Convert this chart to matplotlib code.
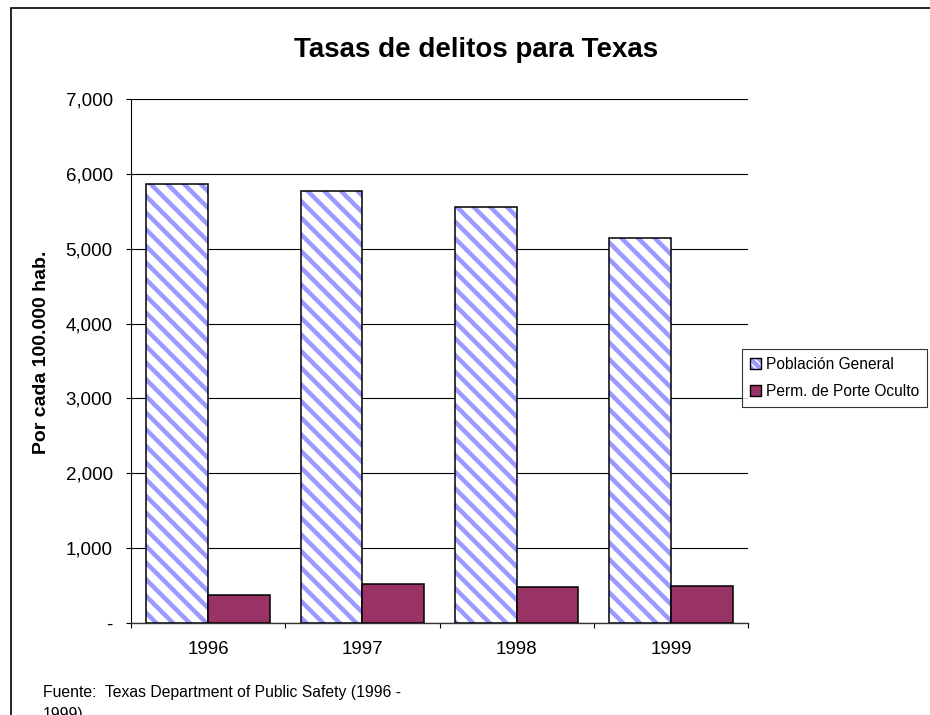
import matplotlib
matplotlib.use("Agg")
import matplotlib.pyplot as plt
from matplotlib.patches import Patch, Rectangle
from matplotlib.legend_handler import HandlerTuple
from matplotlib.ticker import FuncFormatter, FixedLocator
import numpy as np

plt.rcParams['font.family'] = ['Liberation Sans', 'DejaVu Sans']
plt.rcParams['hatch.linewidth'] = 3.2

years = ['1996', '1997', '1998', '1999']
poblacion_general = [5869, 5767, 5557, 5139]
porte_oculto = [370, 521, 477, 494]
series_names = ['Población General', 'Perm. de Porte Oculto']

blue = '#9999ff'
maroon = '#993366'

fig = plt.figure(figsize=(9.3, 7.15), dpi=100)
ax = fig.add_axes([131/930, 1-623/715, 617/930, 524/715])

x = np.arange(len(years))
w = 0.4
ax.bar(x - w/2, poblacion_general, width=w, facecolor='white', edgecolor=blue,
       hatch='\\\\', linewidth=0, zorder=3)
ax.bar(x - w/2, poblacion_general, width=w, fill=False, edgecolor='black',
       linewidth=1.1, zorder=4)
ax.bar(x + w/2, porte_oculto, width=w, facecolor=maroon, edgecolor='black',
       linewidth=1.1, zorder=4)

ax.set_xlim(-0.5, len(years) - 0.5)
ax.set_ylim(0, 7000)
ax.set_yticks(np.arange(0, 7001, 1000))
ax.yaxis.set_major_formatter(FuncFormatter(lambda v, p: '-' if v == 0 else f'{int(v):,}'))
ax.grid(axis='y', color='black', linewidth=0.8, zorder=1)
ax.set_axisbelow(True)

ax.set_xticks(x)
ax.set_xticklabels(years)
ax.xaxis.set_minor_locator(FixedLocator(np.arange(-0.5, len(years), 1.0)))
ax.tick_params(axis='x', which='major', length=0, labelsize=13.5, pad=13)
ax.tick_params(axis='x', which='minor', length=3.6, width=0.8, direction='out')
ax.tick_params(axis='y', length=3.6, width=0.8, direction='out', labelsize=13.5, pad=9.5)

for s in ['top', 'right']:
    ax.spines[s].set_visible(False)
ax.spines['left'].set_linewidth(0.8)
ax.spines['bottom'].set_linewidth(1.0)
ax.spines['bottom'].set_color('#333333')

fig.text(42/930, 1-352/715, 'Por cada 100.000 hab.', fontsize=14, fontweight='bold',
         rotation=90, ha='center', va='center')

fig.text(476/930, 1-57/715, 'Tasas de delitos para Texas', fontsize=20,
         fontweight='bold', ha='center', va='baseline')

fig.text(43/930, 1-697/715, 'Fuente:  Texas Department of Public Safety (1996 -',
         fontsize=11.3, ha='left', va='baseline')
fig.text(43/930, 1-719/715, '1999)', fontsize=11.3, ha='left', va='baseline')

h1 = (Patch(facecolor='white', edgecolor=blue, hatch='\\\\\\\\', linewidth=0),
      Patch(fill=False, edgecolor='black', linewidth=1.0))
h2 = Patch(facecolor=maroon, edgecolor='black', linewidth=1.0)
leg = fig.legend([h1, h2], series_names, loc='center left',
                 bbox_to_anchor=(742/930, 1-378/715), fontsize=11.2,
                 handler_map={tuple: HandlerTuple(ndivide=1, pad=0)},
                 frameon=True, fancybox=False, edgecolor='black',
                 handlelength=0.7, handleheight=0.7, handletextpad=0.35,
                 borderpad=0.5, labelspacing=0.8, borderaxespad=0)
leg.get_frame().set_linewidth(0.8)

fig.patches.append(Rectangle((11/930, -0.1), 1.0, 1-8/715 + 0.1, transform=fig.transFigure,
                             fill=False, edgecolor='black', linewidth=1.2))

fig.savefig('out.png', dpi=100)
